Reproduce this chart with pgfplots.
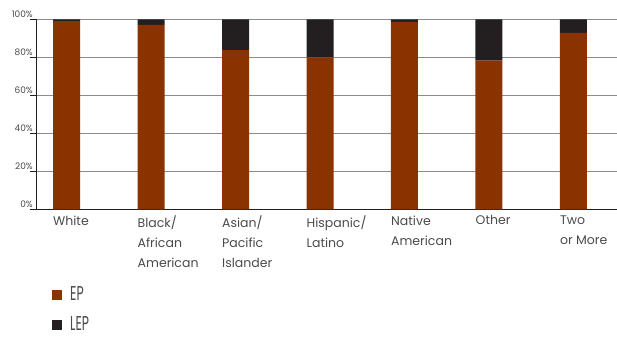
\documentclass[border=0pt]{standalone}
\usepackage{pgfplots}
\pgfplotsset{compat=1.18}
\usepackage{fontspec}
\setmainfont{Poppins}
\newfontfamily\condfont{Poppins}[FakeStretch=0.62]
\definecolor{ep}{HTML}{8B3300}
\definecolor{lep}{HTML}{231F20}
\definecolor{txt}{HTML}{4A4A4A}
\definecolor{gridc}{HTML}{8C8C8C}
\begin{document}
\begin{tikzpicture}
\begin{axis}[
  name=ax,
  scale only axis, width=581pt, height=190pt,
  ybar stacked, bar width=27pt,
  xmin=-0.361, xmax=6.515, ymin=0, ymax=100,
  xtick={0,1,2,3,4,5,6},
  xticklabels={White,{Black/\\African\\American},{Asian/\\Pacific\\Islander},{Hispanic/\\Latino},{Native\\American},Other,{Two\\or More}},
  x tick label style={anchor=north west, align=left, xshift=-13.5pt, inner sep=0pt, yshift=0pt,
     font=\fontsize{12.5}{20}\selectfont, text=txt},
  major x tick style={draw=none},
  ytick={0,20,40,60,80,100},
  yticklabel={\pgfmathprintnumber{\tick}\%},
  y tick label style={anchor=south east, inner sep=0pt, xshift=3pt, yshift=1pt,
     font=\fontsize{9}{10}\selectfont, text=txt},
  /pgf/number format/assume math mode=true,
  ymajorgrids, grid style={gridc, line width=0.8pt},
  axis x line*=bottom, axis y line*=left,
  tick align=outside, major tick length=6pt,
  y tick style={lep, line width=0.8pt},
  axis line style={line width=0.9pt, lep},
  legend style={at={(0.0275,-0.397)}, anchor=north west, draw=none, fill=none,
     font=\condfont\fontsize{20}{20}\selectfont, text=txt, row sep=10.5pt, inner sep=0pt,
     column sep=6pt},
  legend cell align=left,
]
\addplot[fill=ep, draw=none, legend image code/.code={\fill[ep] (0pt,-5pt) rectangle (10pt,5pt);}]
  coordinates {(0,99.1) (1,97.0) (2,83.8) (3,80.0) (4,98.6) (5,78.2) (6,92.8)};
\addlegendentry{EP}
\addplot[fill=lep, draw=none, legend image code/.code={\fill[lep] (0pt,-5pt) rectangle (10pt,5pt);}]
  coordinates {(0,0.9) (1,3.0) (2,16.2) (3,20.0) (4,1.4) (5,21.8) (6,7.2)};
\addlegendentry{LEP}
\end{axis}
\pgfresetboundingbox
\path (ax.south west) ++(-36pt,-127.7pt) rectangle ++(617pt,337pt);
\end{tikzpicture}
\end{document}
